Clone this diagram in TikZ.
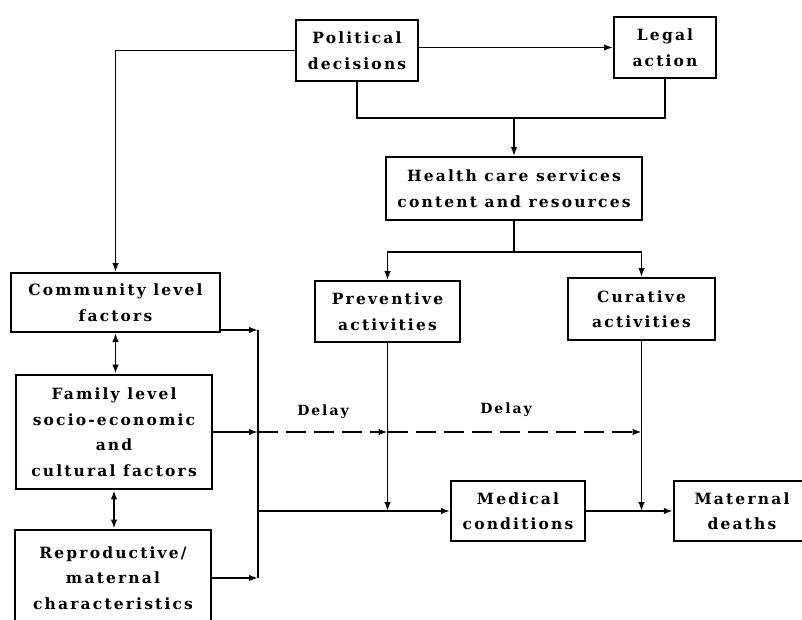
\documentclass[tikz,border=0pt]{standalone}
\usepackage{fontspec}
\newfontfamily\boxfont{DejaVu Serif}[LetterSpace=14]
\usetikzlibrary{arrows.meta}

\begin{document}
\begin{tikzpicture}[x=1pt,y=-1pt,
  box/.style={draw, line width=1.8pt, inner sep=0pt, align=center,
    font=\boxfont\bfseries\fontsize{15.5}{25.5}\selectfont},
  heavybox/.style={box, line width=2.8pt},
  link/.style={line width=1.7pt},
  arr/.style={link, -{Latex[length=9pt,width=6.5pt]}},
  dblarr/.style={link, {Latex[length=9pt,width=6.5pt]}-{Latex[length=9pt,width=6.5pt]}},
  delayline/.style={arr, dash pattern=on 20pt off 8pt},
  lbl/.style={font=\boxfont\bfseries\fontsize{14}{17}\selectfont}]

\clip (0,0) rectangle (802,620);
\fill[white] (0,0) rectangle (802,620);

% boxes
\node[box, minimum width=122pt, minimum height=61pt] (pol) at (357,50.5) {Political\\decisions};
\node[box, minimum width=102pt, minimum height=61pt] (leg) at (665,47.5) {Legal\\action};
\node[box, minimum width=256pt, minimum height=63pt] (hcs) at (514,188.5) {Health care services\\content and resources};
\node[box, minimum width=209pt, minimum height=59pt] (comm) at (115.5,302.5) {Community level\\factors};
\node[box, minimum width=145pt, minimum height=61pt] (prev) at (387.5,311.5) {Preventive\\activities};
\node[box, minimum width=147pt, minimum height=62pt] (cur) at (641.5,309) {Curative\\activities};
\node[heavybox, minimum width=196pt, minimum height=114pt] (fam) at (114,432) {Family level\\socio-economic\\and\\cultural factors};
\node[heavybox, minimum width=196pt, minimum height=96pt] (repro) at (113,578) {Reproductive/\\maternal\\characteristics};
\node[box, minimum width=134pt, minimum height=60pt] (med) at (518,511) {Medical\\conditions};
\node[box, line width=2.4pt, minimum width=136pt, minimum height=60pt] (mat) at (742,511) {Maternal\\deaths};

% delay labels
\node[lbl] (delay1) at (323,412) {Delay};
\node[lbl] (delay2) at (506,410) {Delay};

% junction points
\coordinate (hj) at (514,118);
\coordinate (hs) at (514,252);
\coordinate (busT) at (258,330);
\coordinate (busB) at (258,578);
\coordinate (busM) at (258,511);

% policy level
\draw[arr] (pol.east |- leg.west) -- (leg.west);
\draw[arr] (pol.west) -| (comm.north);
\draw[link] (pol.south) |- (hj) -| (leg.south);
\draw[arr] (hj) -- (hcs.north);

% health services
\draw[link] (hcs.south) -- (hs);
\draw[arr] (hs) -| (prev.north);
\draw[arr] (hs) -| (cur.north);

% household and individual level
\draw[dblarr] (comm.south) -- (comm.south |- fam.north);
\draw[dblarr] (fam.south) -- (fam.south |- repro.north);
\draw[arr] (comm.east |- busT) -- (busT);
\draw[arr] (fam.east) -- (fam.east -| busT);
\draw[arr] (repro.east |- busB) -- (busB);
\draw[link] (busT) -- (busB);
\draw[arr] (busM) -- (med.west);

% delays
\draw[delayline] (fam.east -| busT) -- (fam.east -| prev.south);
\draw[delayline] (fam.east -| prev.south) -- (fam.east -| cur.south);

% towards outcomes
\draw[arr] (prev.south) -- (prev.south |- med.west);
\draw[arr] (cur.south) -- (cur.south |- mat.west);
\draw[arr] (med.east) -- (mat.west);
\end{tikzpicture}
\end{document}
